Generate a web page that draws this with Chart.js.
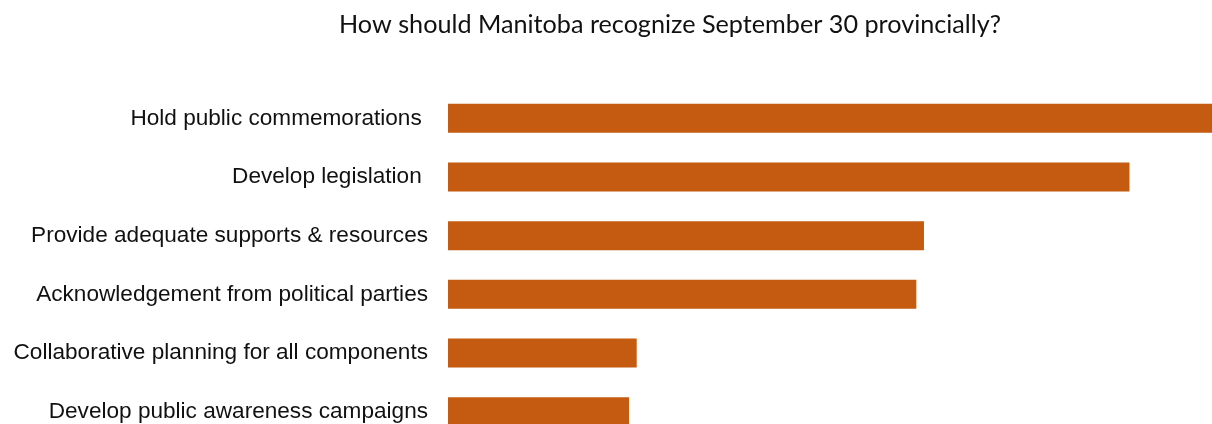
<!DOCTYPE html>
<html>
<head>
<meta charset="utf-8">
<script src="https://cdn.jsdelivr.net/npm/chart.js@4"></script>
<style>
  html, body { margin: 0; padding: 0; background: #fff; overflow: hidden; }
  canvas { display: block; }
</style>
</head>
<body>
<canvas id="chart" width="1212" height="441"></canvas>
<script>
const titleText = 'How should Manitoba recognize September 30 provincially?';
const categories = [
  'Hold public commemorations ',
  'Develop legislation ',
  'Provide adequate supports & resources',
  'Acknowledgement from political parties',
  'Collaborative planning for all components',
  'Develop public awareness campaigns'
];
const values = [100, 89.2, 62.3, 61.3, 24.7, 23.7];
const barColor = '#C55A11';

// title sits a bit right of the page centre, like the original
const titlePlugin = {
  id: 'topTitle',
  afterDraw(chart) {
    const ctx = chart.ctx;
    ctx.save();
    ctx.font = '25.2px Lato';
    ctx.fillStyle = '#111';
    ctx.textAlign = 'center';
    ctx.textBaseline = 'alphabetic';
    ctx.fillText(titleText, 670, 33);
    ctx.restore();
  }
};

new Chart(document.getElementById('chart'), {
  type: 'bar',
  data: {
    labels: categories,
    datasets: [{
      data: values,
      backgroundColor: barColor,
      borderWidth: 0,
      categoryPercentage: 1,
      barPercentage: 0.495
    }]
  },
  options: {
    indexAxis: 'y',
    responsive: false,
    maintainAspectRatio: false,
    animation: false,
    layout: { autoPadding: false, padding: { top: 89, right: 0, bottom: 0, left: 0 } },
    plugins: {
      legend: { display: false },
      tooltip: { enabled: false }
    },
    scales: {
      x: { display: false, min: 0, max: 100 },
      y: {
        border: { display: false },
        grid: { display: false, drawTicks: false },
        ticks: {
          color: '#111',
          padding: 20,
          font: { family: 'Liberation Sans', size: 22.6 }
        },
        afterFit(scale) {
          scale.width = 448;
          // the category band runs right to the bottom edge
          scale.paddingTop = 0;
          scale.paddingBottom = 0;
        }
      }
    }
  },
  plugins: [titlePlugin]
});
</script>
</body>
</html>
